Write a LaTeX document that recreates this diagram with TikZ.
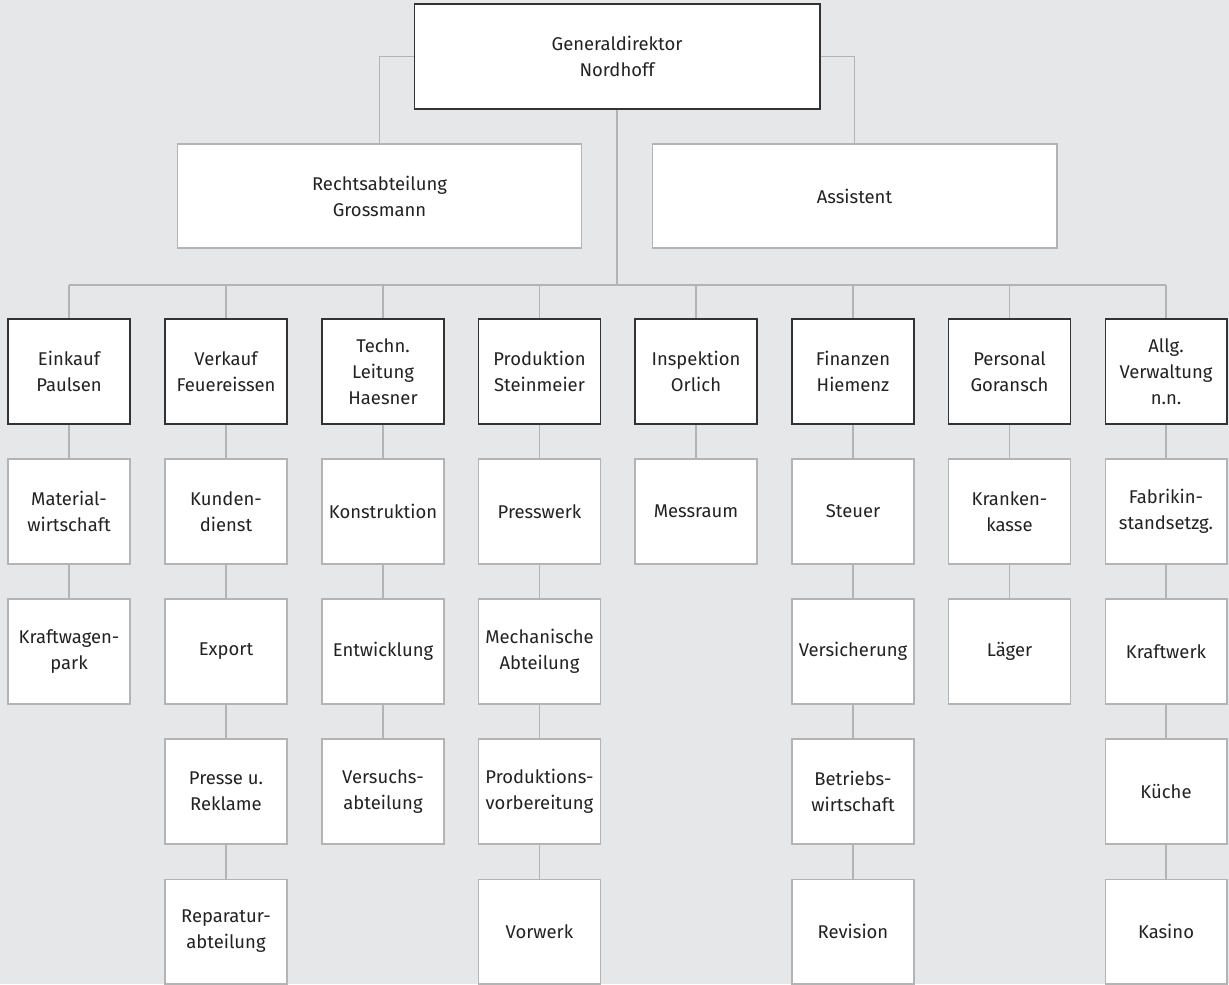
\documentclass[tikz,border=0pt]{standalone}
\usepackage{fontspec}
\setmainfont{Fira Sans}
\definecolor{bgray}{HTML}{E6E7E8}
\definecolor{lgray}{HTML}{B4B4B4}
\definecolor{txt}{HTML}{222222}
\begin{document}
\begin{tikzpicture}[x=0.02cm,y=-0.02cm,
  box/.style={fill=white, text=txt, align=center, inner sep=0pt,
    font=\fontsize{10.5}{14.8}\selectfont},
  chief/.style={box, draw=black!80, line width=0.6pt, minimum width=8.12cm, minimum height=2.1cm},
  staff/.style={box, draw=lgray, line width=0.6pt, minimum width=8.1cm, minimum height=2.08cm},
  head/.style={box, draw=black!80, line width=0.6pt, minimum width=2.44cm, minimum height=2.1cm},
  sub/.style={box, draw=lgray, line width=0.6pt, minimum width=2.44cm, minimum height=2.1cm},
  link/.style={draw=lgray, line width=0.75pt}]
\useasboundingbox (0,0) rectangle (1229,984);
\clip (0,0) rectangle (1229,984);
\fill[bgray] (0,0) rectangle (1229,984);

% top and staff
\node[chief] (gd) at (617,56.5) {Generaldirektor\\Nordhoff};
\node[staff] (ra) at (379.5,196) {Rechtsabteilung\\Grossmann};
\node[staff] (as) at (854.5,196) {Assistent};
\coordinate (bus) at (617,285);

% heads
\node[head] (ek) at (69,371.5) {Einkauf\\Paulsen};
\node[head] (vk) at (226,371.5) {Verkauf\\Feuereissen};
\node[head] (tl) at (383,371.5) {Techn.\\Leitung\\Haesner};
\node[head] (pr) at (539.5,371.5) {Produktion\\Steinmeier};
\node[head] (in) at (696,371.5) {Inspektion\\Orlich};
\node[head] (fi) at (853,371.5) {Finanzen\\Hiemenz};
\node[head] (pe) at (1009.5,371.5) {Personal\\Goransch};
\node[head] (av) at (1166,371.5) {Allg.\\Verwaltung\\n.n.};

% Einkauf
\node[sub] (ek1) at (69,511.5) {Material-\\wirtschaft};
\node[sub] (ek2) at (69,651.5) {Kraftwagen-\\park};
% Verkauf
\node[sub] (vk1) at (226,511.5) {Kunden-\\dienst};
\node[sub] (vk2) at (226,651.5) {Export};
\node[sub] (vk3) at (226,791.5) {Presse u.\\Reklame};
\node[sub] (vk4) at (226,931.5) {Reparatur-\\abteilung};
% Techn. Leitung
\node[sub] (tl1) at (383,511.5) {Konstruktion};
\node[sub] (tl2) at (383,651.5) {Entwicklung};
\node[sub] (tl3) at (383,791.5) {Versuchs-\\abteilung};
% Produktion
\node[sub] (pr1) at (539.5,511.5) {Presswerk};
\node[sub] (pr2) at (539.5,651.5) {Mechanische\\Abteilung};
\node[sub] (pr3) at (539.5,791.5) {Produktions-\\vorbereitung};
\node[sub] (pr4) at (539.5,931.5) {Vorwerk};
% Inspektion
\node[sub] (in1) at (696,511.5) {Messraum};
% Finanzen
\node[sub] (fi1) at (853,511.5) {Steuer};
\node[sub] (fi2) at (853,651.5) {Versicherung};
\node[sub] (fi3) at (853,791.5) {Betriebs-\\wirtschaft};
\node[sub] (fi4) at (853,931.5) {Revision};
% Personal
\node[sub] (pe1) at (1009.5,511.5) {Kranken-\\kasse};
\node[sub] (pe2) at (1009.5,651.5) {Läger};
% Allg. Verwaltung
\node[sub] (av1) at (1166,511.5) {Fabrikin-\\standsetzg.};
\node[sub] (av2) at (1166,651.5) {Kraftwerk};
\node[sub] (av3) at (1166,791.5) {Küche};
\node[sub] (av4) at (1166,931.5) {Kasino};

% connectors
\draw[link] (gd.west) -| (ra.north);
\draw[link] (gd.east) -| (as.north);
\draw[link] (gd.south) -- (bus);
\draw[link] (bus -| ek.north) -- (bus -| av.north);
\foreach \h in {ek,vk,tl,pr,in,fi,pe,av}
  \draw[link] (bus -| \h.north) -- (\h.north);
\draw[link] (ek.south) -- (ek1.north);
\draw[link] (ek1.south) -- (ek2.north);
\draw[link] (vk.south) -- (vk1.north);
\draw[link] (vk1.south) -- (vk2.north);
\draw[link] (vk2.south) -- (vk3.north);
\draw[link] (vk3.south) -- (vk4.north);
\draw[link] (tl.south) -- (tl1.north);
\draw[link] (tl1.south) -- (tl2.north);
\draw[link] (tl2.south) -- (tl3.north);
\draw[link] (pr.south) -- (pr1.north);
\draw[link] (pr1.south) -- (pr2.north);
\draw[link] (pr2.south) -- (pr3.north);
\draw[link] (pr3.south) -- (pr4.north);
\draw[link] (in.south) -- (in1.north);
\draw[link] (fi.south) -- (fi1.north);
\draw[link] (fi1.south) -- (fi2.north);
\draw[link] (fi2.south) -- (fi3.north);
\draw[link] (fi3.south) -- (fi4.north);
\draw[link] (pe.south) -- (pe1.north);
\draw[link] (pe1.south) -- (pe2.north);
\draw[link] (av.south) -- (av1.north);
\draw[link] (av1.south) -- (av2.north);
\draw[link] (av2.south) -- (av3.north);
\draw[link] (av3.south) -- (av4.north);
\end{tikzpicture}
\end{document}
